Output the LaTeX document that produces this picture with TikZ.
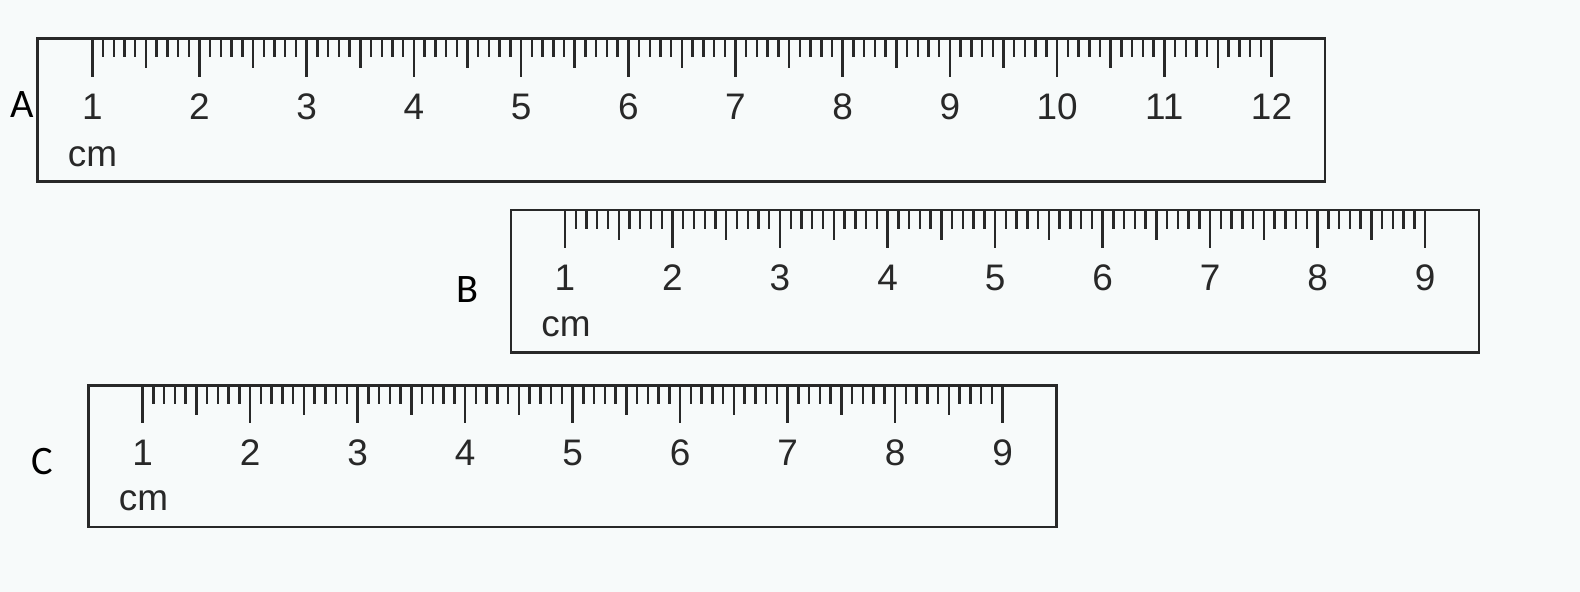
\documentclass[tikz,border=0pt]{standalone}
\usepackage{fontspec}
\setmainfont{Liberation Sans}
\newfontfamily\letterfont{Carlito}
\usepackage{tikz}
\usetikzlibrary{positioning}
\usepackage{xcolor}
\definecolor{paper}{RGB}{247,250,250}
\definecolor{ink}{RGB}{40,40,40}

\begin{document}
\begin{tikzpicture}[x=0.01cm, y=-0.01cm,
  rulerbox/.style={draw=ink, line width=0.8pt},
  tickmark/.style={ink, line width=0.7pt},
  num/.style={font=\fontsize{10.5}{12}\selectfont, text=ink, inner sep=0pt},
  rulername/.style={font=\letterfont\fontsize{11.5}{14}\selectfont, inner sep=0pt}]
  % Paper
  \fill[paper] (0,0) rectangle (1580,592);
  \useasboundingbox (0,0) rectangle (1580,592);

  % Ruler A (1 to 12 cm)
  \draw[rulerbox] (37.5,38.5) rectangle (1325,181.5);
  \foreach \i in {0,...,110} {
    \pgfmathsetmacro{\len}{ifthenelse(mod(\i,10)==0,39,ifthenelse(mod(\i,5)==0,30,19))}
    \draw[tickmark] ({92.3+10.72*\i},38.5) -- ++(0,\len);
  }
  \foreach \k in {1,...,12}
    \node[num] (A-\k) at ({92.3+107.2*(\k-1)},107) {\k};
  \node[num] (A-cm) at (92.5,157) {cm};
  \node[rulername] (nameA) at (21.7,104.5) {A};

  % Ruler B (1 to 9 cm)
  \draw[rulerbox] (511,210) rectangle (1479,352.5);
  \foreach \i in {0,...,80} {
    \pgfmathsetmacro{\len}{ifthenelse(mod(\i,10)==0,38,ifthenelse(mod(\i,5)==0,30,19))}
    \draw[tickmark] ({565+10.75*\i},210) -- ++(0,\len);
  }
  \foreach \k in {1,...,9}
    \node[num] (B-\k) at ({565+107.5*(\k-1)},278) {\k};
  \node[num] (B-cm) at (566,327) {cm};
  \node[rulername] (nameB) at (467.5,290) {B};

  % Ruler C (1 to 9 cm)
  \draw[rulerbox] (88.3,385.5) rectangle (1056.7,527);
  \foreach \i in {0,...,80} {
    \pgfmathsetmacro{\len}{ifthenelse(mod(\i,10)==0,38,ifthenelse(mod(\i,5)==0,30,19))}
    \draw[tickmark] ({142.7+10.75*\i},385.5) -- ++(0,\len);
  }
  \foreach \k in {1,...,9}
    \node[num] (C-\k) at ({142.7+107.5*(\k-1)},453) {\k};
  \node[num] (C-cm) at (143.5,501) {cm};
  \node[rulername] (nameC) at (42.5,462) {C};
\end{tikzpicture}
\end{document}
